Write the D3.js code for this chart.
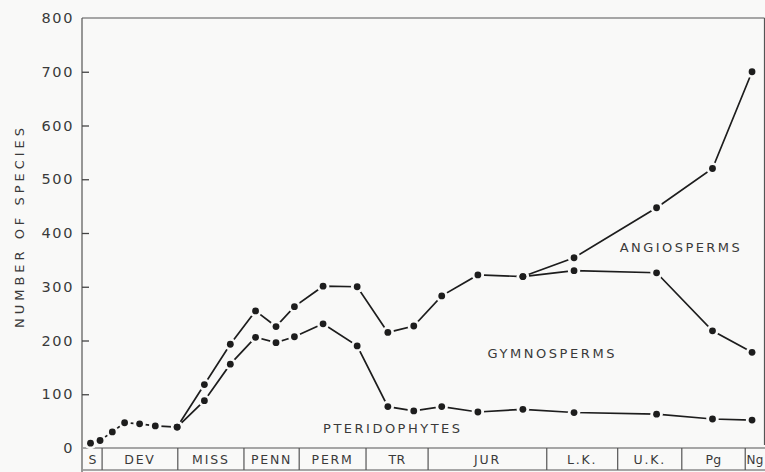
<!DOCTYPE html>
<html>
<head>
<meta charset="utf-8">
<script src="https://cdn.jsdelivr.net/npm/d3@7"></script>
<style>
  html, body { margin: 0; padding: 0; background: #f9f9f8; }
  svg { display: block; }
  text { font-family: "DejaVu Sans", sans-serif; fill: #3a3a3a; }
</style>
</head>
<body>
<svg id="chart" width="765" height="472"></svg>
<script>
// ---- data ----
// position along the time axis, 0-100 % of the plot width
const timePos = [1.1, 2.5, 4.3, 6.1, 8.3, 10.6, 13.8, 17.8, 21.6, 25.3, 28.3, 31.0,
                 35.2, 40.2, 44.7, 48.5, 52.6, 57.9, 64.5, 72.0, 84.1, 92.3, 98.1];
// lower line: pteridophytes
const pteridophytes = [9, 14, 30, 47, 45, 41, 39, 88, 156, 206, 196, 207,
                       231, 190, 77, 69, 77, 67, 72, 66, 63, 54, 52];
// middle line: pteridophytes + gymnosperms
const plusGymnosperms = [null, null, null, null, null, null, 39, 118, 193, 255, 226, 263,
                         301, 300, 215, 227, 283, 322, 319, 330, 326, 218, 178];
// upper line: pteridophytes + gymnosperms + angiosperms
const plusAngiosperms = [null, null, null, null, null, null, null, null, null, null, null, null,
                         null, null, null, null, null, null, 319, 354, 447, 520, 700];
const periods = ["S", "DEV", "MISS", "PENN", "PERM", "TR", "JUR", "L.K.", "U.K.", "Pg", "Ng"];
const periodBounds = [0, 2.8, 13.9, 23.6, 31.7, 41.5, 50.6, 68.0, 78.4, 87.8, 97.1, 100];
const yTicks = [0, 100, 200, 300, 400, 500, 600, 700, 800];
const groupLabels = [
  {name: "ANGIOSPERMS", t: 78.7, v: 364},
  {name: "GYMNOSPERMS", t: 59.3, v: 167},
  {name: "PTERIDOPHYTES", t: 35.2, v: 28}
];

// ---- drawing ----
const svg = d3.select("#chart");
const W = 765, H = 472;
const bg = "#f9f9f8", ink = "#1d1d1d";
svg.append("rect").attr("width", W).attr("height", H).attr("fill", bg);

const x = d3.scaleLinear().domain([0, 100]).range([83, 765]);
const y = d3.scaleLinear().domain([0, 800]).range([448, 18]);
const barBottom = 470;

// frame
const frame = svg.append("g").attr("stroke", "#555").attr("stroke-width", 1.2).attr("fill", "none");
frame.append("line").attr("x1", x(0) - 1).attr("x2", x(0) - 1).attr("y1", y(800)).attr("y2", H);
frame.append("line").attr("x1", x(0) - 1).attr("x2", 764.5).attr("y1", y(800)).attr("y2", y(800));
frame.append("line").attr("x1", 764.5).attr("x2", 764.5).attr("y1", y(800)).attr("y2", y(0) - 3);

// y axis
const yAxis = d3.axisLeft(y).tickValues(yTicks).tickSize(-7).tickPadding(8);
const gy = svg.append("g").attr("transform", `translate(${x(0) - 1},0)`).call(yAxis);
gy.select(".domain").remove();
gy.selectAll(".tick line").attr("stroke", "#444").attr("stroke-width", 1.3)
  .filter(d => d === 0 || d === 800).remove();
gy.selectAll(".tick text").attr("font-size", 14.5).attr("letter-spacing", 1.6)
  .attr("fill", "#3d3d3d").attr("font-family", "DejaVu Sans, sans-serif");

// y title
svg.append("text")
  .attr("transform", `translate(23.5,228) rotate(-90)`)
  .attr("text-anchor", "middle")
  .attr("font-size", 13)
  .attr("textLength", 200).attr("lengthAdjust", "spacing")
  .text("NUMBER OF SPECIES");

// period bar
const pb = svg.append("g");
pb.append("line").attr("x1", x(0)).attr("x2", W).attr("y1", y(0)).attr("y2", y(0))
  .attr("stroke", "#555").attr("stroke-width", 1.2);
pb.append("line").attr("x1", x(0)).attr("x2", W).attr("y1", barBottom).attr("y2", barBottom)
  .attr("stroke", "#555").attr("stroke-width", 1.2);
pb.selectAll("line.b").data(periodBounds.slice(1, -1)).join("line").attr("class", "b")
  .attr("x1", d => x(d)).attr("x2", d => x(d)).attr("y1", y(0)).attr("y2", barBottom)
  .attr("stroke", "#555").attr("stroke-width", 1.2);
pb.selectAll("text").data(periods).join("text")
  .attr("x", (d, i) => x((periodBounds[i] + periodBounds[i + 1]) / 2))
  .attr("y", 463.5)
  .attr("text-anchor", "middle")
  .attr("font-size", d => d === "Ng" ? 12 : 12.5)
  .attr("letter-spacing", d => d.length > 2 ? 1.8 : 0.3)
  .text(d => d);

// lines
const line = d3.line().defined(d => d.v != null).x(d => x(d.t)).y(d => y(d.v));
const series = [pteridophytes, plusGymnosperms, plusAngiosperms]
  .map(vals => vals.map((v, i) => ({t: timePos[i], v})));

svg.append("g").selectAll("path").data(series).join("path")
  .attr("d", line).attr("fill", "none").attr("stroke", ink).attr("stroke-width", 1.7);

const pts = series.flat().filter(d => d.v != null);
svg.append("g").selectAll("circle").data(pts).join("circle")
  .attr("cx", d => x(d.t)).attr("cy", d => y(d.v)).attr("r", 6.2).attr("fill", bg);
svg.append("g").selectAll("circle").data(pts).join("circle")
  .attr("cx", d => x(d.t)).attr("cy", d => y(d.v)).attr("r", 3.4).attr("fill", ink);

// group labels
const lens = {ANGIOSPERMS: 120, GYMNOSPERMS: 127, PTERIDOPHYTES: 137};
svg.append("g").selectAll("text").data(groupLabels).join("text")
  .attr("x", d => x(d.t)).attr("y", d => y(d.v))
  .attr("font-size", 13)
  .attr("textLength", d => lens[d.name]).attr("lengthAdjust", "spacing")
  .text(d => d.name);
</script>
</body>
</html>
